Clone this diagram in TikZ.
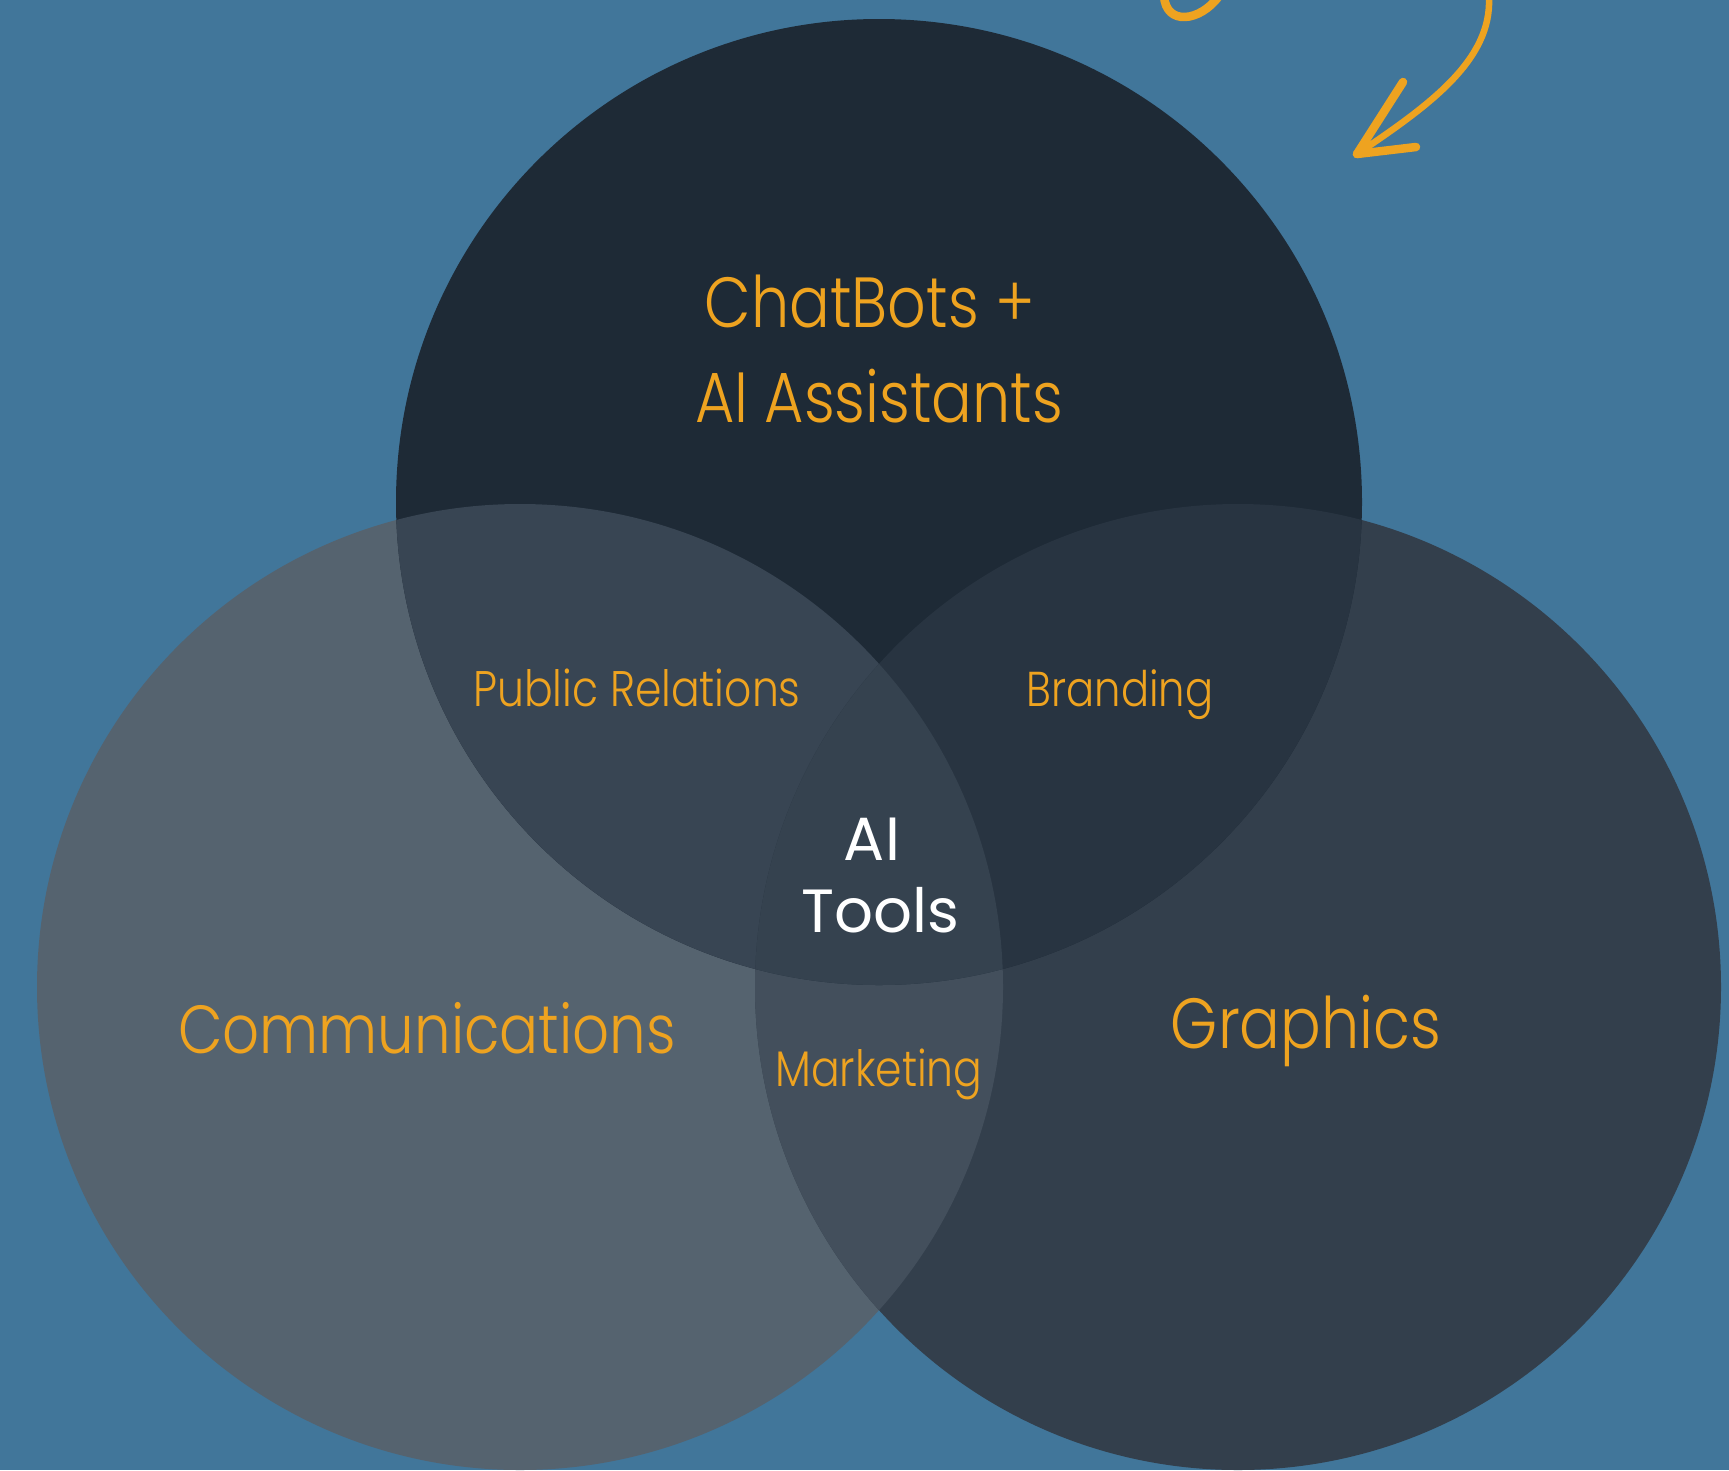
\documentclass[tikz,border=0pt]{standalone}
\usepackage{fontspec}
\setmainfont{Poppins}[UprightFont=* Light, FakeStretch=0.85]
\newfontfamily\ctrfont{Poppins}
\definecolor{bg}{HTML}{41769A}
\definecolor{ctop}{HTML}{1E2A36}
\definecolor{cleft}{HTML}{55636F}
\definecolor{cright}{HTML}{333F4C}
\definecolor{ctl}{HTML}{384553}
\definecolor{ctr}{HTML}{283441}
\definecolor{clr}{HTML}{434F5C}
\definecolor{call}{HTML}{35424F}
\definecolor{gold}{HTML}{EEA320}
\tikzset{
  lbl/.style={text=gold, inner sep=0pt, anchor=base},
  big/.style={lbl, font=\fontsize{68}{80}\selectfont},
  bigger/.style={lbl, font=\fontsize{71}{80}\selectfont},
  small/.style={lbl, font=\fontsize{50}{60}\selectfont},
  center/.style={inner sep=0pt, anchor=base, text=white, font=\ctrfont\fontsize{61}{70}\selectfont},
  pen/.style={draw=gold, line cap=round, line join=round}
}
\begin{document}
\begin{tikzpicture}[x=1pt,y=-1pt]
\useasboundingbox (0,0) rectangle (1729,1470);
\fill[bg] (0,0) rectangle (1729,1470);
\def\T{(879,502) circle[radius=483pt]}
\def\L{(520,987) circle[radius=483pt]}
\def\R{(1238,987) circle[radius=483pt]}
\fill[cleft] \L;
\fill[cright] \R;
\fill[ctop] \T;
\begin{scope}\clip \L; \fill[clr] \R; \end{scope}
\begin{scope}\clip \T; \fill[ctl] \L; \end{scope}
\begin{scope}\clip \T; \fill[ctr] \R; \end{scope}
\begin{scope}\clip \T; \clip \L; \fill[call] \R; \end{scope}
% texts
\node[bigger] (chat) at (870,327) {ChatBots +};
\node[bigger] (assist) at (879,422) {AI Assistants};
\node[small] (pr) at (637,706) {Public Relations};
\node[small, font=\fontsize{49}{60}\selectfont] (brand) at (1120,706) {Branding};
\node[center] (ai) at (872,860) {AI};
\node[center] (tools) at (880,932) {Tools};
\node[big] (comm) at (427,1053) {Communications};
\node[small] (mkt) at (879,1086) {Marketing};
\node[bigger] (graph) at (1306,1048) {Graphics};
% decorative arrow
\coordinate (tip) at (1357,154);
\coordinate (start) at (1489,-3);
\coordinate (hA) at (1403,82);
\coordinate (hB) at (1416,147);
\draw[pen, line width=6.5] (start) .. controls (1492,60) and (1430,105) .. (tip);
\draw[pen, line width=8.5] (tip) -- (hA);
\draw[pen, line width=8.5] (tip) -- (hB);
\coordinate (la) at (1164,-4);
\coordinate (lb) at (1219,-4);
\draw[pen, line width=8.5] (la) .. controls (1166,26) and (1200,22) .. (lb);
\end{tikzpicture}
\end{document}
